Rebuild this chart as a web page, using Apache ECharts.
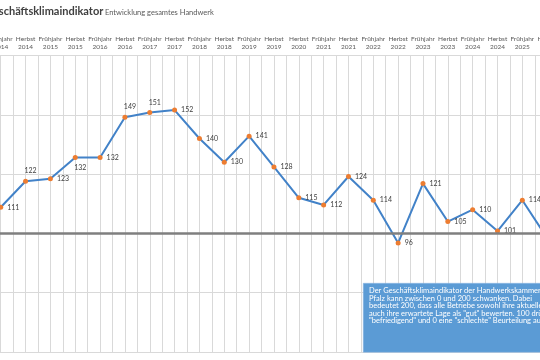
<!DOCTYPE html>
<html>
<head>
<meta charset="utf-8">
<script src="https://cdn.jsdelivr.net/npm/echarts@6/dist/echarts.min.js"></script>
<style>
html,body{margin:0;padding:0;width:540px;height:360px;overflow:hidden;background:#fff;}
#wrap{position:absolute;left:0;top:0;width:540px;height:360px;overflow:hidden;}
#chart{position:absolute;left:-60px;top:0;width:640px;height:360px;}
</style>
</head>
<body>
<div id="wrap"><div id="chart"></div></div>
<script>
const categories = [
  "Frühjahr\n2014","Herbst\n2014","Frühjahr\n2015","Herbst\n2015","Frühjahr\n2016","Herbst\n2016",
  "Frühjahr\n2017","Herbst\n2017","Frühjahr\n2018","Herbst\n2018","Frühjahr\n2019","Herbst\n2019",
  "Herbst\n2020","Frühjahr\n2021","Herbst\n2021","Frühjahr\n2022","Herbst\n2022","Frühjahr\n2023",
  "Herbst\n2023","Frühjahr\n2024","Herbst\n2024","Frühjahr\n2025","Herbst\n2025"
];
const indexValues = [111,122,123,132,132,149,151,152,140,130,141,128,115,112,124,114,96,121,105,110,101,114,98];
const labelPositions = ["right","top","right","bottom","right","top","top","right","right","right","right","right",
  "right","right","right","right","right","right","right","right","right","right","right"];
const yTicks = {min:50, max:175, interval:25};
const titleText = "Geschäftsklimaindikator";
const subtitleText = "Entwicklung gesamtes Handwerk";
const noteLines = [
  "Der Geschäftsklimaindikator der Handwerkskammer der",
  "Pfalz kann zwischen 0 und 200 schwanken. Dabei",
  "bedeutet 200, dass alle Betriebe sowohl ihre aktuelle als",
  "auch ihre erwartete Lage als \"gut\" bewerten. 100 drückt",
  "\"befriedigend\" und 0 eine \"schlechte\" Beurteilung aus."
];

const halfCats = [];
categories.forEach((c,i)=>{halfCats.push('a'+i);halfCats.push('b'+i);});

const chart = echarts.init(document.getElementById('chart'), null, {renderer:'canvas'});
const FONT = 'Lato, "Open Sans", sans-serif';
chart.setOption({
  animation:false,
  backgroundColor:'#fff',
  grid:{left:48.3, right:20.4, top:55.5, bottom:8, containLabel:false},
  xAxis:[{
    type:'category', data:categories, position:'top', boundaryGap:true,
    axisLine:{show:false}, axisTick:{show:false},
    axisLabel:{interval:0, fontSize:6.5, lineHeight:7.5, color:'#595959', margin:5, fontFamily:FONT},
    splitLine:{show:false}
  },{
    type:'category', data:halfCats, position:'bottom', boundaryGap:true, gridIndex:0,
    axisLine:{show:false}, axisTick:{show:false}, axisLabel:{show:false},
    splitLine:{show:true, interval:0, lineStyle:{color:'#d9d9d9', width:1}}
  }],
  yAxis:{
    type:'value', min:yTicks.min, max:yTicks.max, interval:yTicks.interval,
    axisLine:{show:false}, axisTick:{show:false},
    axisLabel:{fontSize:8, color:'#595959'},
    splitLine:{lineStyle:{color:'#d9d9d9', width:1}}
  },
  series:[{
    type:'line', xAxisIndex:0,
    data:indexValues.map((v,i)=>({value:v, label:{position:labelPositions[i], offset: labelPositions[i]==='right' ? [0,0] : [5,0]}})),
    symbol:'circle', symbolSize:5,
    lineStyle:{color:'#4282c8', width:2},
    itemStyle:{color:'#ed7d31'},
    label:{show:true, fontSize:7, color:'#404040', distance:4, fontFamily:FONT},
    markLine:{
      silent:true, symbol:['none','none'], label:{show:false},
      lineStyle:{color:'#7f7f7f', width:2.5, type:'solid'},
      data:[{yAxis:100}]
    },
    z:3
  }],
  graphic:[
    {type:'text', left:45, top:6, style:{text:titleText, font:'bold 11px '+FONT, fill:'#404040'}},
    {type:'text', left:165, top:8.5, style:{text:subtitleText, font:'7.5px '+FONT, fill:'#595959'}},
    {type:'rect', left:423, top:283, shape:{width:215, height:69}, style:{fill:'#5b9bd5', stroke:'#8db6e3', lineWidth:0.5}, z:10},
    {type:'text', left:429, top:287, z:11, style:{text:noteLines.join('\n'), font:'7.5px '+FONT, fill:'#ffffff', lineHeight:7.4}}
  ]
});
</script>
</body>
</html>
